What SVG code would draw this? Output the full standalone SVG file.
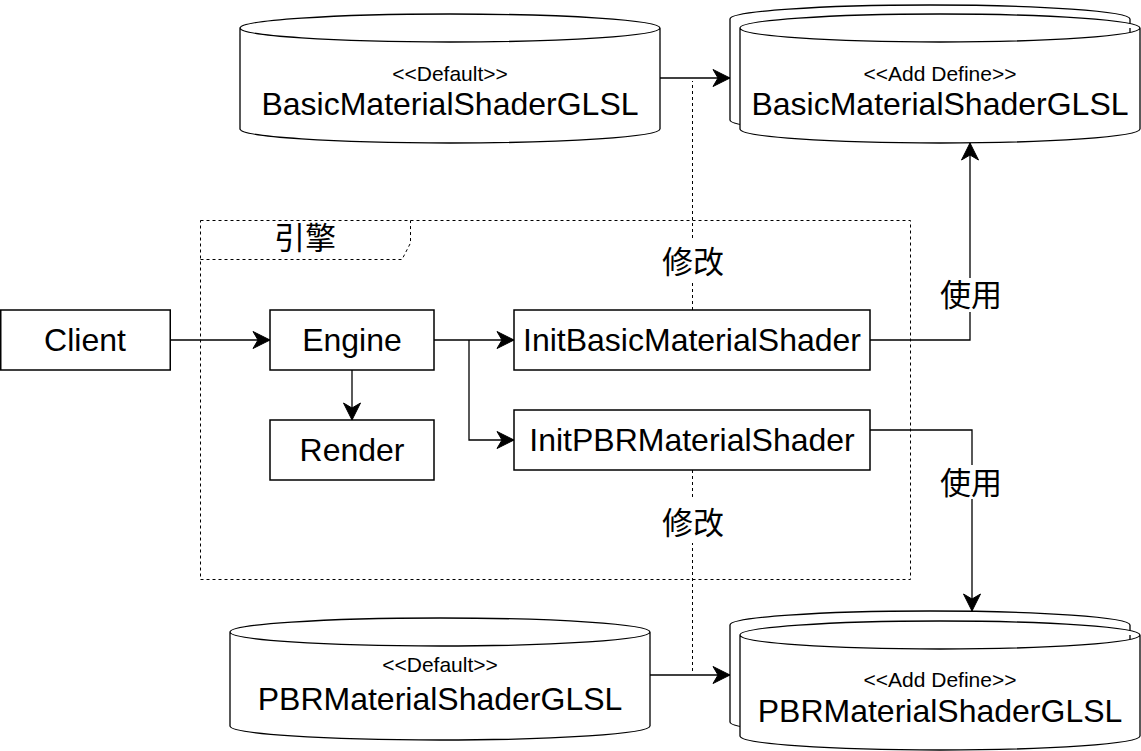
<svg xmlns="http://www.w3.org/2000/svg" width="1141" height="751" viewBox="0 0 1141 751">
<style>
.box{fill:#fff;stroke:#000;stroke-width:1.5}
.cyl{fill:#fff;stroke:#000;stroke-width:1.3}
.frame{fill:none;stroke:#000;stroke-width:1;stroke-dasharray:3 3}
.t{font-family:"Liberation Sans",Helvetica,Arial,sans-serif;font-size:32px;text-anchor:middle;fill:#000}
.s{font-family:"Liberation Sans",Helvetica,Arial,sans-serif;font-size:21px;text-anchor:middle;fill:#000}
.cn{font-family:"Noto Sans CJK SC",sans-serif;font-size:31px;text-anchor:middle;fill:#000}
.ln{fill:none;stroke:#000;stroke-width:1.3}
.dl{fill:none;stroke:#000;stroke-width:1;stroke-dasharray:3 3}
</style>
<defs>
<marker id="arr" markerUnits="userSpaceOnUse" viewBox="-1 -10 20 20" refX="17" refY="0" markerWidth="20" markerHeight="20" orient="auto">
<path d="M0,-8.5 L17,0 L0,8.5 L5,0 Z" fill="#000" stroke="#000" stroke-width="1"/>
</marker>
</defs>

<g id="frame-engine">
<rect class="frame" x="200.5" y="220.5" width="710" height="359"/>
<path class="frame" d="M200.5,259.5 L402,259.5 L410.5,243 L410.5,220.5"/>
<text class="cn" x="305" y="249">引擎</text>
</g>

<g id="connectors">
<path class="dl" d="M692.5,310 L692.5,81"/>
<path class="dl" d="M692.5,470 L692.5,671"/>
<path class="ln" d="M170,340 L270,340" marker-end="url(#arr)"/>
<path class="ln" d="M352,370 L352,420" marker-end="url(#arr)"/>
<path class="ln" d="M434,340 L514,340" marker-end="url(#arr)"/>
<path class="ln" d="M469,340 L469,440 L514,440" marker-end="url(#arr)"/>
<path class="ln" d="M660,78 L730,78" marker-end="url(#arr)"/>
<path class="ln" d="M650,675 L730,675" marker-end="url(#arr)"/>
<path class="ln" d="M870,340 L970,340 L970,143" marker-end="url(#arr)"/>
<path class="ln" d="M870,430 L972,430 L972,611" marker-end="url(#arr)"/>
<rect x="662" y="240" width="62" height="43" fill="#fff"/>
<text class="cn" x="693" y="273">修改</text>
<rect x="662" y="500" width="62" height="43" fill="#fff"/>
<text class="cn" x="693" y="534">修改</text>
<rect x="940" y="278" width="62" height="34" fill="#fff"/>
<text class="cn" x="971" y="306">使用</text>
<rect x="940" y="465" width="62" height="34" fill="#fff"/>
<text class="cn" x="971" y="494">使用</text>
</g>

<g id="client">
<rect class="box" x="0.75" y="310" width="169.5" height="60"/>
<text class="t" x="85" y="351">Client</text>
</g>
<g id="engine">
<rect class="box" x="270" y="310" width="164" height="60"/>
<text class="t" x="352" y="351">Engine</text>
</g>
<g id="render">
<rect class="box" x="270" y="420" width="164" height="60"/>
<text class="t" x="352" y="461">Render</text>
</g>
<g id="init-basic">
<rect class="box" x="514" y="310" width="356" height="60"/>
<text class="t" x="692" y="351">InitBasicMaterialShader</text>
</g>
<g id="init-pbr">
<rect class="box" x="514" y="410" width="356" height="60"/>
<text class="t" x="692" y="451">InitPBRMaterialShader</text>
</g>

<g id="basic-default">
<path class="cyl" d="M240,28 A210,14 0 0 1 660,28 L660,129 A210,14 0 0 1 240,129 Z M240,28 A210,14 0 0 0 660,28"/>
<text class="s" x="450" y="81">&lt;&lt;Default&gt;&gt;</text>
<text class="t" x="450" y="115">BasicMaterialShaderGLSL</text>
</g>
<g id="basic-define">
<path class="cyl" d="M730,19 A200,14 0 0 1 1130,19 L1130,120 A200,14 0 0 1 730,120 Z"/>
<path class="cyl" d="M740,28 A200,14 0 0 1 1140,28 L1140,129 A200,14 0 0 1 740,129 Z M740,28 A200,14 0 0 0 1140,28"/>
<text class="s" x="940" y="81">&lt;&lt;Add Define&gt;&gt;</text>
<text class="t" x="940" y="115">BasicMaterialShaderGLSL</text>
</g>
<g id="pbr-default">
<path class="cyl" d="M230,632 A210,14 0 0 1 650,632 L650,726 A210,14 0 0 1 230,726 Z M230,632 A210,14 0 0 0 650,632"/>
<text class="s" x="440" y="672">&lt;&lt;Default&gt;&gt;</text>
<text class="t" x="440" y="710">PBRMaterialShaderGLSL</text>
</g>
<g id="pbr-define">
<path class="cyl" d="M730,625 A200,14 0 0 1 1130,625 L1130,722 A200,14 0 0 1 730,722 Z"/>
<path class="cyl" d="M740,635 A200,14 0 0 1 1140,635 L1140,736 A200,14 0 0 1 740,736 Z M740,635 A200,14 0 0 0 1140,635"/>
<text class="s" x="940" y="687">&lt;&lt;Add Define&gt;&gt;</text>
<text class="t" x="940" y="722">PBRMaterialShaderGLSL</text>
</g>
</svg>
